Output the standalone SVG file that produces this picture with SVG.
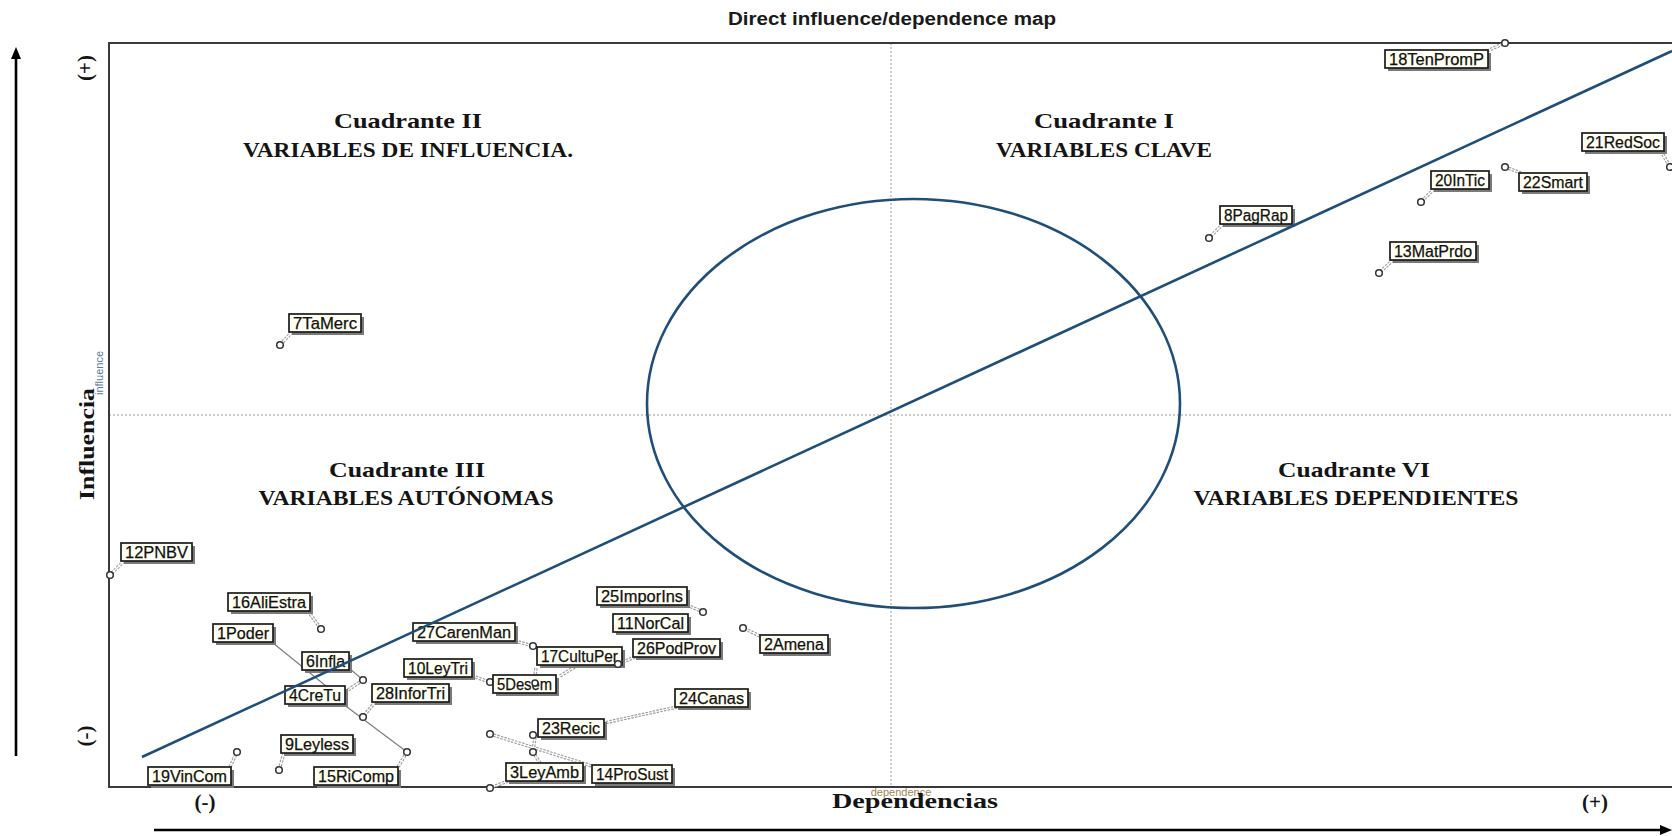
<svg xmlns="http://www.w3.org/2000/svg" xmlns:xlink="http://www.w3.org/1999/xlink" width="1672" height="836" viewBox="0 0 1672 836">
  <style>
    .title { font-family: "Liberation Sans", Arial, sans-serif; font-weight: bold; font-size: 18px; fill: #1a1a1a; }
    .quad { font-family: "Liberation Serif", "Times New Roman", serif; font-weight: bold; font-size: 21px; fill: #141414; text-anchor: middle; }
    .axis { font-family: "Liberation Serif", "Times New Roman", serif; font-weight: bold; font-size: 21px; fill: #141414; text-anchor: middle; }
    .small { font-family: "Liberation Sans", Arial, sans-serif; font-size: 11px; text-anchor: middle; }
    .frame { fill: none; stroke: #3a3a3a; stroke-width: 2; }
    .grid { stroke: #9a9a9a; stroke-width: 1; stroke-dasharray: 2 2; fill: none; }
    .blue { fill: none; stroke: #1f4e79; stroke-width: 2.6; }
    .arrow { stroke: #000; stroke-width: 2.6; fill: none; }
    .ld { stroke: #9b9b9b; stroke-width: 3.4; stroke-dasharray: 2.5 1.2; fill: none; }
    .ldw { stroke: #ffffff; stroke-width: 1.2; fill: none; }
    .ln { stroke: #7a7a7a; stroke-width: 1.1; fill: none; }
    .node .sh { fill: #7a7a7a; }
    .node .bx { fill: #fffff4; stroke: #1a1a1a; stroke-width: 1.7; }
    .node text { font-family: "Liberation Sans", Arial, sans-serif; font-size: 16px; fill: #111111; stroke: #111111; stroke-width: 0.25; }
    .node circle { fill: #ffffff; stroke: #333333; stroke-width: 1.5; }
  </style>
  <defs>
    <marker id="ah" viewBox="0 0 12 10" refX="6" refY="5" markerWidth="12" markerHeight="10" markerUnits="userSpaceOnUse" orient="auto">
      <path d="M0,0 L12,5 L0,10 z" fill="#000"/>
    </marker>
    <!-- double dotted leader lines from each point to its label -->
    <g id="leaders">
      <path d="M1487,51 L1505,43"/>
      <path d="M1661,151 L1670,167"/>
      <path d="M1434,189 L1421,202"/>
      <path d="M1505,167 L1521,173"/>
      <path d="M1223,224 L1209,238"/>
      <path d="M1393,260 L1379,273"/>
      <path d="M292,332 L280,345"/>
      <path d="M124,561 L110,575"/>
      <path d="M308,611 L321,629"/>
      <path d="M230,767 L237,752"/>
      <path d="M284,753 L279,770"/>
      <path d="M398,767 L407,752"/>
      <path d="M375,702 L363,717"/>
      <path d="M345,692 L363,680"/>
      <path d="M515,641 L533,646"/>
      <path d="M472,676 L490,682"/>
      <path d="M687,605 L703,612"/>
      <path d="M760,636 L743,628"/>
      <path d="M635,657 L618,664"/>
      <path d="M677,707 L604,723"/>
      <path d="M508,781 L490,788"/>
      <path d="M535,737 L533,752 L540,763"/>
      <path d="M560,676 L578,665"/>
      <path d="M536,668 L535,675"/>
      <path d="M490,734 L592,766"/>
    </g>
  </defs>

  <rect width="1672" height="836" fill="#ffffff"/>

  <!-- title -->
  <text class="title" x="728" y="25" textLength="328" lengthAdjust="spacingAndGlyphs">Direct influence/dependence map</text>

  <!-- axis arrows -->
  <line class="arrow" x1="16" y1="756" x2="16" y2="53" marker-end="url(#ah)"/>
  <line class="arrow" x1="154" y1="830" x2="1666" y2="830" marker-end="url(#ah)"/>

  <!-- plot frame and median lines -->
  <line class="grid" x1="891" y1="43" x2="891" y2="787"/>
  <line class="grid" x1="109" y1="415" x2="1672" y2="415"/>
  <rect class="frame" x="109" y="43" width="1600" height="744"/>

  <!-- axis captions -->
  <text class="axis" font-size="22" transform="translate(92,68) rotate(-90)">(+)</text>
  <text class="axis" font-size="22" transform="translate(92,736) rotate(-90)">(-)</text>
  <text class="small" fill="#5a7aa0" transform="translate(103,373) rotate(-90)">influence</text>
  <text class="axis" font-size="20" transform="translate(94,444) rotate(-90)" textLength="112" lengthAdjust="spacingAndGlyphs">Influencia</text>
  <text class="small" fill="#a08458" font-size="12" x="901" y="796">dependence</text>
  <text class="axis" font-size="20" x="915" y="808" textLength="166" lengthAdjust="spacingAndGlyphs">Dependencias</text>
  <text class="axis" font-size="22" x="205" y="809">(-)</text>
  <text class="axis" font-size="22" x="1595" y="809">(+)</text>

  <!-- quadrant titles -->
  <text class="quad" x="408" y="128" textLength="148" lengthAdjust="spacingAndGlyphs">Cuadrante II</text>
  <text class="quad" x="408" y="157" textLength="330" lengthAdjust="spacingAndGlyphs">VARIABLES DE INFLUENCIA.</text>
  <text class="quad" x="1104" y="128" textLength="140" lengthAdjust="spacingAndGlyphs">Cuadrante I</text>
  <text class="quad" x="1104" y="157" textLength="216" lengthAdjust="spacingAndGlyphs">VARIABLES CLAVE</text>
  <text class="quad" x="407" y="477" textLength="156" lengthAdjust="spacingAndGlyphs">Cuadrante III</text>
  <text class="quad" x="406" y="505" textLength="295" lengthAdjust="spacingAndGlyphs">VARIABLES AUTÓNOMAS</text>
  <text class="quad" x="1354" y="477" textLength="152" lengthAdjust="spacingAndGlyphs">Cuadrante VI</text>
  <text class="quad" x="1356" y="505" textLength="325" lengthAdjust="spacingAndGlyphs">VARIABLES DEPENDIENTES</text>

  <!-- connectors -->
  <g id="connectors">
    <use xlink:href="#leaders" class="ld"/>
    <use xlink:href="#leaders" class="ldw"/>
    <path class="ln" d="M273,643 L326,686"/>
    <path class="ln" d="M349,668 L363,680"/>
    <path class="ln" d="M343,704 L407,752"/>
  </g>

  <!-- variables -->
  <g id="v18TenPromP" class="node"><rect class="sh" x="1388" y="53" width="103" height="18"/><rect class="bx" x="1385" y="50" width="103" height="18"/><text x="1389" y="64.5" textLength="95" lengthAdjust="spacingAndGlyphs">18TenPromP</text><circle cx="1505" cy="43" r="3.3"/></g>
  <g id="v21RedSoc" class="node"><rect class="sh" x="1585" y="136" width="82" height="18"/><rect class="bx" x="1582" y="133" width="82" height="18"/><text x="1586" y="147.5" textLength="74" lengthAdjust="spacingAndGlyphs">21RedSoc</text><circle cx="1670" cy="167" r="3.3"/></g>
  <g id="v20InTic" class="node"><rect class="sh" x="1434" y="174" width="58" height="18"/><rect class="bx" x="1431" y="171" width="58" height="18"/><text x="1435" y="185.5" textLength="50" lengthAdjust="spacingAndGlyphs">20InTic</text><circle cx="1421" cy="202" r="3.3"/></g>
  <g id="v22Smart" class="node"><rect class="sh" x="1522" y="176" width="68" height="18"/><rect class="bx" x="1519" y="173" width="68" height="18"/><text x="1523" y="187.5" textLength="60" lengthAdjust="spacingAndGlyphs">22Smart</text><circle cx="1505" cy="167" r="3.3"/></g>
  <g id="v8PagRap" class="node"><rect class="sh" x="1223" y="209" width="72" height="18"/><rect class="bx" x="1220" y="206" width="72" height="18"/><text x="1224" y="220.5" textLength="64" lengthAdjust="spacingAndGlyphs">8PagRap</text><circle cx="1209" cy="238" r="3.3"/></g>
  <g id="v13MatPrdo" class="node"><rect class="sh" x="1393" y="245" width="86" height="18"/><rect class="bx" x="1390" y="242" width="86" height="18"/><text x="1394" y="256.5" textLength="78" lengthAdjust="spacingAndGlyphs">13MatPrdo</text><circle cx="1379" cy="273" r="3.3"/></g>
  <g id="v7TaMerc" class="node"><rect class="sh" x="292" y="317" width="72" height="18"/><rect class="bx" x="289" y="314" width="72" height="18"/><text x="293" y="328.5" textLength="64" lengthAdjust="spacingAndGlyphs">7TaMerc</text><circle cx="280" cy="345" r="3.3"/></g>
  <g id="v12PNBV" class="node"><rect class="sh" x="124" y="546" width="71" height="18"/><rect class="bx" x="121" y="543" width="71" height="18"/><text x="125" y="557.5" textLength="63" lengthAdjust="spacingAndGlyphs">12PNBV</text><circle cx="110" cy="575" r="3.3"/></g>
  <g id="v16AliEstra" class="node"><rect class="sh" x="231" y="596" width="82" height="18"/><rect class="bx" x="228" y="593" width="82" height="18"/><text x="232" y="607.5" textLength="74" lengthAdjust="spacingAndGlyphs">16AliEstra</text><circle cx="321" cy="629" r="3.3"/></g>
  <g id="v1Poder" class="node"><rect class="sh" x="216" y="627" width="60" height="18"/><rect class="bx" x="213" y="624" width="60" height="18"/><text x="217" y="638.5" textLength="52" lengthAdjust="spacingAndGlyphs">1Poder</text></g>
  <g id="v6Infla" class="node"><rect class="sh" x="305" y="655" width="47" height="18"/><rect class="bx" x="302" y="652" width="47" height="18"/><text x="306" y="666.5" textLength="39" lengthAdjust="spacingAndGlyphs">6Infla</text><circle cx="363" cy="680" r="3.3"/></g>
  <g id="v4CreTu" class="node"><rect class="sh" x="288" y="689" width="60" height="18"/><rect class="bx" x="285" y="686" width="60" height="18"/><text x="289" y="700.5" textLength="52" lengthAdjust="spacingAndGlyphs">4CreTu</text></g>
  <g id="v28InforTri" class="node"><rect class="sh" x="375" y="687" width="77" height="18"/><rect class="bx" x="372" y="684" width="77" height="18"/><text x="376" y="698.5" textLength="69" lengthAdjust="spacingAndGlyphs">28InforTri</text><circle cx="363" cy="717" r="3.3"/></g>
  <g id="v27CarenMan" class="node"><rect class="sh" x="416" y="626" width="102" height="18"/><rect class="bx" x="413" y="623" width="102" height="18"/><text x="417" y="637.5" textLength="94" lengthAdjust="spacingAndGlyphs">27CarenMan</text><circle cx="533" cy="646" r="3.3"/></g>
  <g id="v10LeyTri" class="node"><rect class="sh" x="407" y="662" width="68" height="18"/><rect class="bx" x="404" y="659" width="68" height="18"/><text x="408" y="673.5" textLength="60" lengthAdjust="spacingAndGlyphs">10LeyTri</text><circle cx="490" cy="682" r="3.3"/></g>
  <g id="v17CultuPer" class="node"><rect class="sh" x="540" y="650" width="85" height="18"/><rect class="bx" x="537" y="647" width="85" height="18"/><text x="541" y="661.5" textLength="77" lengthAdjust="spacingAndGlyphs">17CultuPer</text></g>
  <g id="v5Desem" class="node"><rect class="sh" x="496" y="678" width="63" height="18"/><rect class="bx" x="493" y="675" width="63" height="18"/><text x="497" y="689.5" textLength="55" lengthAdjust="spacingAndGlyphs">5Desem</text><circle cx="535" cy="683" r="3"/></g>
  <g id="v25ImporIns" class="node"><rect class="sh" x="600" y="590" width="90" height="18"/><rect class="bx" x="597" y="587" width="90" height="18"/><text x="601" y="601.5" textLength="82" lengthAdjust="spacingAndGlyphs">25ImporIns</text><circle cx="703" cy="612" r="3.3"/></g>
  <g id="v11NorCal" class="node"><rect class="sh" x="616" y="617" width="75" height="18"/><rect class="bx" x="613" y="614" width="75" height="18"/><text x="617" y="628.5" textLength="67" lengthAdjust="spacingAndGlyphs">11NorCal</text></g>
  <g id="v26PodProv" class="node"><rect class="sh" x="636" y="642" width="87" height="18"/><rect class="bx" x="633" y="639" width="87" height="18"/><text x="637" y="653.5" textLength="79" lengthAdjust="spacingAndGlyphs">26PodProv</text><circle cx="618" cy="664" r="3.3"/></g>
  <g id="v2Amena" class="node"><rect class="sh" x="763" y="638" width="68" height="18"/><rect class="bx" x="760" y="635" width="68" height="18"/><text x="764" y="649.5" textLength="60" lengthAdjust="spacingAndGlyphs">2Amena</text><circle cx="743" cy="628" r="3.3"/></g>
  <g id="v24Canas" class="node"><rect class="sh" x="678" y="692" width="73" height="18"/><rect class="bx" x="675" y="689" width="73" height="18"/><text x="679" y="703.5" textLength="65" lengthAdjust="spacingAndGlyphs">24Canas</text><circle cx="533" cy="752" r="3.3"/></g>
  <g id="v23Recic" class="node"><rect class="sh" x="541" y="722" width="66" height="18"/><rect class="bx" x="538" y="719" width="66" height="18"/><text x="542" y="733.5" textLength="58" lengthAdjust="spacingAndGlyphs">23Recic</text><circle cx="533" cy="735" r="3.3"/></g>
  <g id="v3LeyAmb" class="node"><rect class="sh" x="509" y="766" width="77" height="18"/><rect class="bx" x="506" y="763" width="77" height="18"/><text x="510" y="777.5" textLength="69" lengthAdjust="spacingAndGlyphs">3LeyAmb</text><circle cx="490" cy="788" r="3.3"/></g>
  <g id="v14ProSust" class="node"><rect class="sh" x="595" y="768" width="80" height="18"/><rect class="bx" x="592" y="765" width="80" height="18"/><text x="596" y="779.5" textLength="72" lengthAdjust="spacingAndGlyphs">14ProSust</text><circle cx="490" cy="734" r="3.3"/></g>
  <g id="v9Leyless" class="node"><rect class="sh" x="284" y="738" width="72" height="18"/><rect class="bx" x="281" y="735" width="72" height="18"/><text x="285" y="749.5" textLength="64" lengthAdjust="spacingAndGlyphs">9Leyless</text><circle cx="279" cy="770" r="3.3"/></g>
  <g id="v19VinCom" class="node"><rect class="sh" x="151" y="770" width="83" height="18"/><rect class="bx" x="148" y="767" width="83" height="18"/><text x="152" y="781.5" textLength="75" lengthAdjust="spacingAndGlyphs">19VinCom</text><circle cx="237" cy="752" r="3.3"/></g>
  <g id="v15RiComp" class="node"><rect class="sh" x="317" y="770" width="84" height="18"/><rect class="bx" x="314" y="767" width="84" height="18"/><text x="318" y="781.5" textLength="76" lengthAdjust="spacingAndGlyphs">15RiComp</text><circle cx="407" cy="752" r="3.3"/></g>

  <!-- trend line and central ellipse -->
  <line class="blue" x1="142" y1="757" x2="1672" y2="51"/>
  <ellipse class="blue" cx="913.5" cy="403.5" rx="266.5" ry="204.5"/>
</svg>
